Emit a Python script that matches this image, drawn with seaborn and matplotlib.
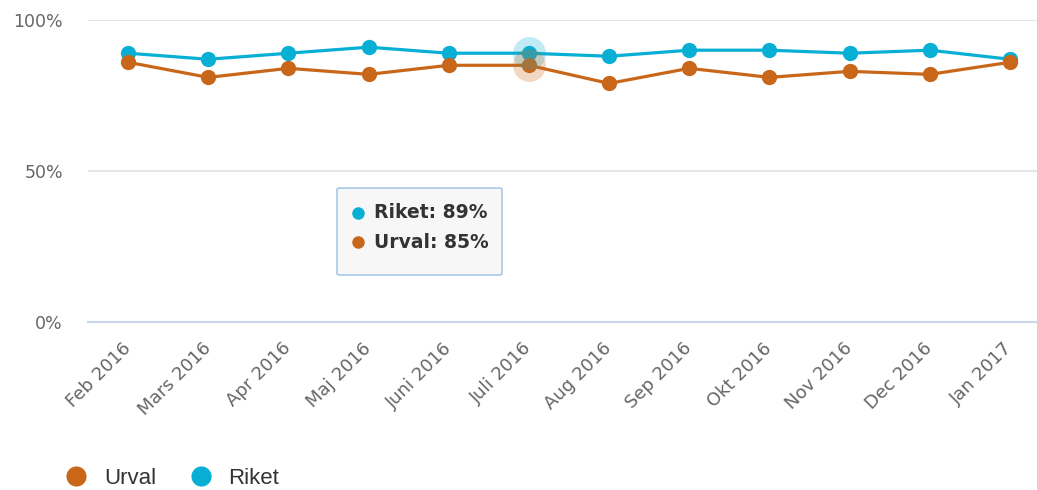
import numpy as np
import pandas as pd
import matplotlib
matplotlib.use("Agg")
import matplotlib.pyplot as plt
import seaborn as sns
from matplotlib.lines import Line2D
from matplotlib.patches import FancyBboxPatch

# data
months = ["Feb 2016", "Mars 2016", "Apr 2016", "Maj 2016", "Juni 2016", "Juli 2016",
          "Aug 2016", "Sep 2016", "Okt 2016", "Nov 2016", "Dec 2016", "Jan 2017"]
urval = [86, 81, 84, 82, 85, 85, 79, 84, 81, 83, 82, 86]
riket = [89, 87, 89, 91, 89, 89, 88, 90, 90, 89, 90, 87]
y_ticks = [0, 50, 100]
hover_idx = 5  # Juli 2016, the point under the tooltip

ORANGE = "#c8671a"
BLUE = "#07afd4"
W, H = 1037, 490

sns.set_style("white")
plt.rcParams["font.family"] = ["DejaVu Sans"]

df = pd.DataFrame({
    "x": list(range(len(months))) * 2,
    "value": riket + urval,
    "series": ["Riket"] * len(months) + ["Urval"] * len(months),
})

fig = plt.figure(figsize=(W / 100, H / 100), dpi=100)
ax = fig.add_axes([88 / W, 1 - 322 / H, 962 / W, 302 / H])

sns.lineplot(data=df, x="x", y="value", hue="series", hue_order=["Riket", "Urval"],
             palette={"Riket": BLUE, "Urval": ORANGE}, marker="o", markersize=11,
             markeredgewidth=0, linewidth=2.3, legend=False, ax=ax, zorder=3)

# hover halos on the highlighted month
ax.scatter([hover_idx], [riket[hover_idx]], s=560, color=BLUE, alpha=0.25, lw=0, zorder=4)
ax.scatter([hover_idx], [urval[hover_idx]], s=560, color=ORANGE, alpha=0.25, lw=0, zorder=4)

ax.set_xlim(-0.5, len(months) - 0.5)
ax.set_ylim(0, 100)
ax.set_xlabel("")
ax.set_ylabel("")

ax.set_yticks(y_ticks)
ax.set_yticklabels([f"{v}%" for v in y_ticks], color="#666666", fontsize=12.5)
ax.tick_params(axis="y", length=0, pad=18)
ax.yaxis.grid(True, color="#e6e6e6", lw=1.5)
ax.set_axisbelow(True)

ax.set_xticks(range(len(months)))
ax.set_xticklabels(months, rotation=45, ha="right", va="center", rotation_mode="anchor",
                   color="#666666", fontsize=13)
ax.tick_params(axis="x", which="major", length=0, pad=17)
ax.set_xticks(np.arange(-0.5, len(months), 1), minor=True)
ax.tick_params(axis="x", which="minor", length=12, width=1.2, color="#ccd6eb")

for s in ["top", "right", "left"]:
    ax.spines[s].set_visible(False)
ax.spines["bottom"].set_color("#ccd6eb")
ax.spines["bottom"].set_linewidth(1.5)

# tooltip
box = FancyBboxPatch((337 / W, 1 - 275 / H), 165 / W, 87 / H,
                     boxstyle="round,pad=0,rounding_size=0.003", transform=fig.transFigure,
                     facecolor="#f7f7f7", edgecolor="#a9c9ea", lw=1.2)
fig.patches.append(box)
tip_rows = [("Riket", riket[hover_idx], BLUE, 213), ("Urval", urval[hover_idx], ORANGE, 242)]
for name, val, col, py in tip_rows:
    fig.lines.append(Line2D([358 / W], [1 - py / H], transform=fig.transFigure, marker="o",
                            markersize=9, color=col, markeredgewidth=0))
    fig.text(374 / W, 1 - py / H, f"{name}: {val}%", fontsize=13.5, fontweight="bold",
             color="#333333", va="center", ha="left")

# legend
handles = [Line2D([], [], marker="o", ls="", markersize=14.5, color=ORANGE, markeredgewidth=0),
           Line2D([], [], marker="o", ls="", markersize=14.5, color=BLUE, markeredgewidth=0)]
fig.legend(handles, ["Urval", "Riket"], loc="center left", bbox_to_anchor=(34 / W, 1 - 478 / H),
           ncol=2, frameon=False, handletextpad=0.25, columnspacing=1.0,
           prop={"family": "Liberation Sans", "size": 16}, labelcolor="#333333")

fig.savefig("out.png", dpi=100)
